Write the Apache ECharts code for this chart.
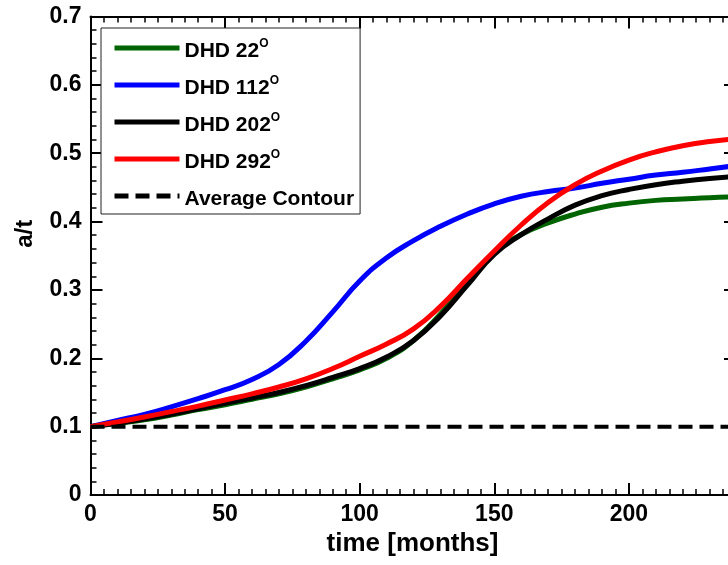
<!DOCTYPE html>
<html>
<head>
<meta charset="utf-8">
<script src="https://cdn.jsdelivr.net/npm/echarts@6.0.0/dist/echarts.min.js"></script>
<style>
  html, body { margin: 0; padding: 0; background: #fff; }
  #chart { width: 728px; height: 565px; }
</style>
</head>
<body>
<div id="chart"></div>
<script>
// ---- data ----
const timeMonths = [0, 10, 20, 30, 40, 50, 60, 70, 80, 90, 100, 110, 120, 130, 140, 150, 160, 170, 180, 190, 200, 210, 220, 230, 240];
const dhd22  = [0.100, 0.105, 0.110, 0.117, 0.125, 0.132, 0.140, 0.148, 0.158, 0.170, 0.183, 0.200, 0.226, 0.265, 0.311, 0.355, 0.381, 0.398, 0.411, 0.421, 0.427, 0.431, 0.433, 0.435, 0.436];
const dhd112 = [0.100, 0.109, 0.118, 0.129, 0.141, 0.154, 0.169, 0.191, 0.225, 0.268, 0.313, 0.347, 0.372, 0.393, 0.411, 0.426, 0.437, 0.444, 0.449, 0.456, 0.462, 0.468, 0.472, 0.477, 0.482];
const dhd202 = [0.100, 0.105, 0.111, 0.118, 0.126, 0.134, 0.142, 0.150, 0.160, 0.172, 0.185, 0.202, 0.226, 0.262, 0.307, 0.352, 0.381, 0.404, 0.424, 0.438, 0.447, 0.454, 0.459, 0.463, 0.466];
const dhd292 = [0.100, 0.107, 0.114, 0.122, 0.130, 0.139, 0.148, 0.158, 0.170, 0.185, 0.203, 0.221, 0.243, 0.276, 0.317, 0.357, 0.395, 0.428, 0.454, 0.474, 0.490, 0.502, 0.511, 0.517, 0.521];
const avgTimes  = [0, 240];
const avgValues = [0.1, 0.1];
const seriesNames = ['DHD 22', 'DHD 112', 'DHD 202', 'DHD 292', 'Average Contour'];
const seriesColors = ['#006400', '#0000ff', '#000000', '#ff0000', '#000000'];
const xTicks = { min: 0, max: 250, step: 50 };
const yTicks = { min: 0, max: 0.7, step: 0.1 };

// ---- chart ----
const FONT = 'Liberation Sans, Arial, sans-serif';
const pairs = (xs, ys) => xs.map((x, i) => [x, ys[i]]);
const curveValues = [dhd22, dhd112, dhd202, dhd292];

const axisLineStyle = { color: '#000', width: 2 };
const majorTick = { show: true, inside: true, length: 12, lineStyle: { color: '#000', width: 2 } };

function xAxisCfg(pos, showLabels) {
  return {
    type: 'value', position: pos,
    min: xTicks.min, max: xTicks.max, interval: xTicks.step,
    axisLine: { show: true, onZero: false, lineStyle: axisLineStyle },
    axisTick: majorTick,
    minorTick: { show: true, splitNumber: 10, length: 6, lineStyle: { color: '#000', width: 1.5 } },
    splitLine: { show: false }, minorSplitLine: { show: false },
    axisLabel: showLabels ? { show: true, margin: 8, color: '#000', fontFamily: FONT, fontWeight: 'bold', fontSize: 23 } : { show: false },
    name: showLabels ? 'time [months]' : '',
    nameLocation: 'middle', nameGap: 26,
    nameTextStyle: { color: '#000', fontFamily: FONT, fontWeight: 'bold', fontSize: 26, padding: [0, 29, 0, 0] }
  };
}
function yAxisCfg(pos, showLabels, offset) {
  return {
    type: 'value', position: pos, offset: offset || 0,
    min: yTicks.min, max: yTicks.max, interval: yTicks.step,
    axisLine: { show: true, onZero: false, lineStyle: axisLineStyle },
    axisTick: majorTick,
    minorTick: { show: true, splitNumber: 5, length: 6, lineStyle: { color: '#000', width: 1.5 } },
    splitLine: { show: false }, minorSplitLine: { show: false },
    axisLabel: showLabels ? { show: true, margin: 9, color: '#000', fontFamily: FONT, fontWeight: 'bold', fontSize: 23 } : { show: false },
    name: showLabels ? 'a/t' : '',
    nameLocation: 'middle', nameGap: 53, nameRotate: 90,
    nameTextStyle: { color: '#000', fontFamily: FONT, fontWeight: 'bold', fontSize: 24, padding: [0, 0, 0, 44] }
  };
}

const series = curveValues.map((vals, i) => ({
  name: seriesNames[i], type: 'line', xAxisIndex: 0, yAxisIndex: 0,
  data: pairs(timeMonths, vals),
  smooth: 0.5, symbol: 'none', showSymbol: false,
  lineStyle: { color: seriesColors[i], width: 5 },
  itemStyle: { color: seriesColors[i] },
  animation: false
}));
series.push({
  name: seriesNames[4], type: 'line', xAxisIndex: 0, yAxisIndex: 0,
  data: pairs(avgTimes, avgValues),
  symbol: 'none', showSymbol: false,
  lineStyle: { color: seriesColors[4], width: 4, type: [14, 7] },
  itemStyle: { color: seriesColors[4] },
  animation: false
});

const chart = echarts.init(document.getElementById('chart'), null, { renderer: 'canvas' });
chart.setOption({
  animation: false,
  backgroundColor: '#fff',
  grid: { left: 90.5, top: 16.5, width: 673, height: 478.5, containLabel: false, outerBoundsMode: 'none' },
  xAxis: [xAxisCfg('bottom', true), xAxisCfg('top', false)],
  yAxis: [yAxisCfg('left', true), yAxisCfg('right', false, -27.5)],
  legend: {
    show: true, orient: 'vertical', left: 101, top: 28,
    padding: [4, 6, 2, 11],
    itemGap: 5, itemWidth: 65, itemHeight: 4,
    borderColor: '#222', borderWidth: 1, backgroundColor: '#fff',
    itemStyle: { opacity: 0 },
    lineStyle: { width: 5 },
    data: seriesNames,
    formatter: function (name) { return name === 'Average Contour' ? name : name + '{sup|O}'; },
    textStyle: {
      color: '#000', fontFamily: FONT, fontWeight: 'bold', fontSize: 21,
      lineHeight: 26, padding: [6, 0, 0, 0],
      rich: {
        sup: { color: '#000', fontFamily: FONT, fontWeight: 'bold', fontSize: 12, lineHeight: 21, verticalAlign: 'top' }
      }
    }
  },
  series: series
});
</script>
</body>
</html>
